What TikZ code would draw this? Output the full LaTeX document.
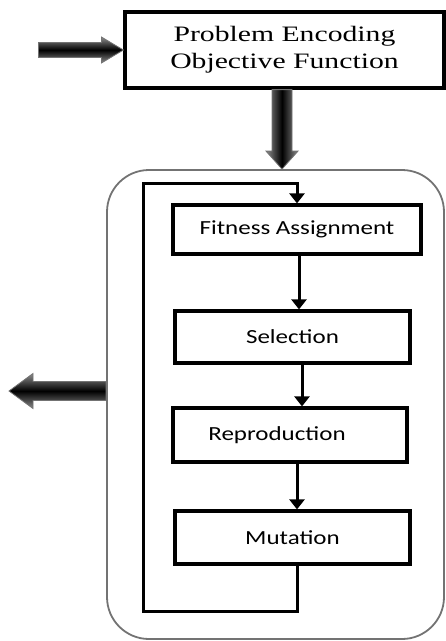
\documentclass[tikz,border=0pt]{standalone}
\usepackage{fontspec}
\newfontfamily\serifA[FakeStretch=1.35]{Liberation Serif}
\newfontfamily\sansA[FakeStretch=1.25]{Carlito}
\usetikzlibrary{arrows.meta,calc}
\begin{document}
\begin{tikzpicture}[x=1pt,y=-1pt,
  stagebox/.style={draw=black,line width=3.2pt,rectangle,inner sep=0pt,align=center,
    font=\sansA\fontsize{20}{24}\selectfont},
  topbox/.style={draw=black,line width=3.2pt,rectangle,inner sep=0pt,align=center,
    font=\serifA\fontsize{22}{27}\selectfont},
  flow/.style={line width=3pt,line join=miter,-{Triangle[width=15pt,length=10pt]}},
  fatH/.style={draw=black!55,line width=0.8pt,top color=black!45,bottom color=black!45,middle color=black},
  fatV/.style={draw=black!55,line width=0.8pt,left color=black!45,right color=black!45,middle color=black},
  container/.style={draw=black!55,line width=1.8pt,rounded corners=42pt,inner sep=0pt}]
\useasboundingbox (0,0) rectangle (446,641);

\node[container,minimum width=337,minimum height=469] (loop) at (275.5,404.5) {};

\node[topbox,minimum width=319,minimum height=76] (enc) at (284.5,50) {Problem Encoding\\Objective Function};

\node[stagebox,minimum width=248,minimum height=49] (fit) at (297,229.5) {Fitness Assignment};
\node[stagebox,minimum width=235,minimum height=52] (sel) at (292.5,337) {Selection};
\node[stagebox,minimum width=234,minimum height=54] (rep) at (290,435) {Reproduction\hspace*{26pt}};
\node[stagebox,minimum width=235,minimum height=53] (mut) at (292.5,537.5) {Mutation};

% fat input arrow
\path[fatH] ($(enc.west)+(-85,-7.5)$) -- ($(enc.west)+(-22,-7.5)$) -- ($(enc.west)+(-22,-13)$)
  -- (enc.west) -- ($(enc.west)+(-22,13)$) -- ($(enc.west)+(-22,7.5)$) -- ($(enc.west)+(-85,7.5)$) -- cycle;

% fat down arrow
\coordinate (dtip) at ($(enc.south |- loop.north)+(-2.5,0)$);
\path[fatV] ($(enc.south)+(-12.5,0)$) -- ($(dtip)+(-10,-18)$) -- ($(dtip)+(-16,-18)$) -- (dtip)
  -- ($(dtip)+(16,-18)$) -- ($(dtip)+(10,-18)$) -- ($(enc.south)+(7.5,0)$) -- cycle;

% fat output arrow
\coordinate (out) at (9,391);
\coordinate (ostart) at (loop.west |- out);
\path[fatH] ($(ostart)+(0,-9.5)$) -- ($(out)+(24,-9.5)$) -- ($(out)+(24,-17.5)$) -- (out)
  -- ($(out)+(24,17.5)$) -- ($(out)+(24,9.5)$) -- ($(ostart)+(0,9.5)$) -- cycle;

% flow arrows
\draw[flow] ([xshift=2pt]fit.south) -- ([xshift=2pt]fit.south |- sel.north);
\draw[flow] ([xshift=9.5pt]sel.south) -- ([xshift=9.5pt]sel.south |- rep.north);
\draw[flow] ([xshift=7pt]rep.south) -- ([xshift=7pt]rep.south |- mut.north);

% feedback loop
\coordinate (lb) at (143,611);
\coordinate (lt) at (143,183);
\draw[flow] ([xshift=4.5pt]mut.south) |- (lb) -- (lt) -| (fit.north);
\end{tikzpicture}
\end{document}
